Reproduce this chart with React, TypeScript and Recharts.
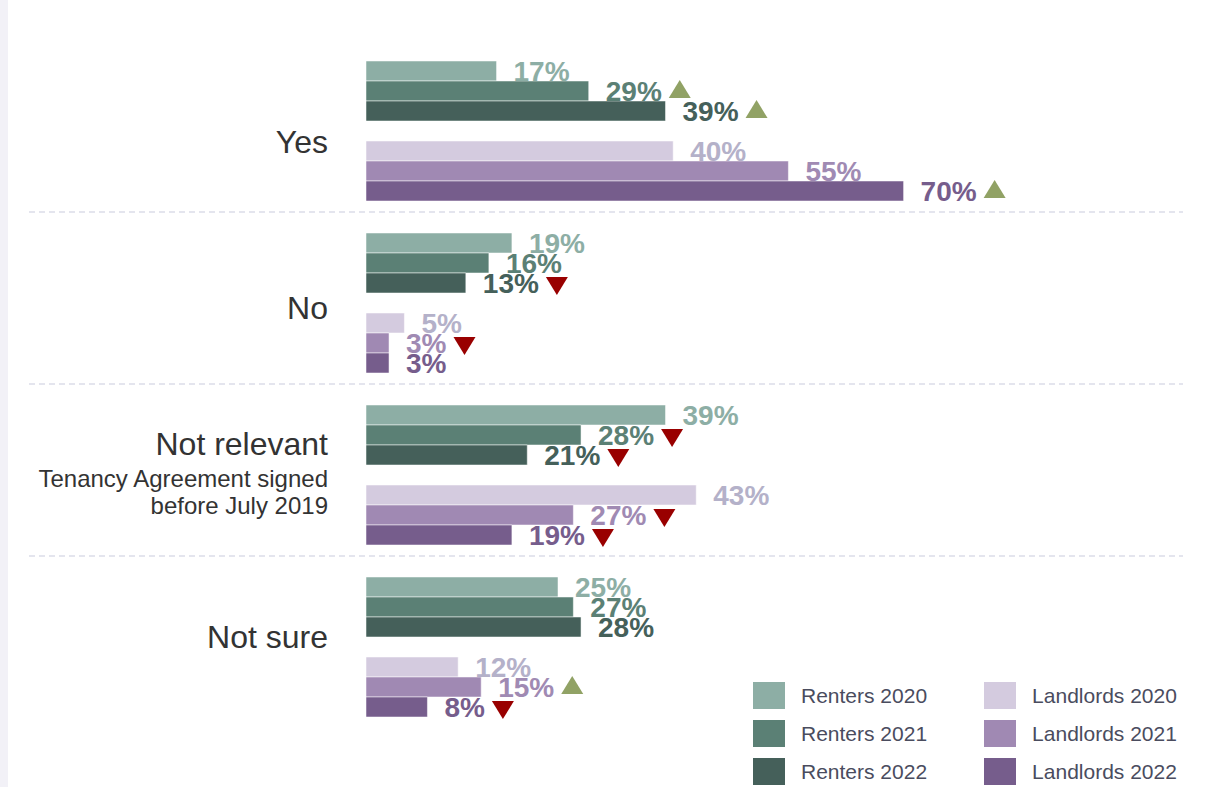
import { BarChart, Bar, XAxis, YAxis, LabelList } from 'recharts'

const categories = ['Yes', 'No', 'Not relevant', 'Not sure']

const renters2020 = [17, 19, 39, 25]
const renters2021 = [29, 16, 28, 27]
const renters2022 = [39, 13, 21, 28]
const landlords2020 = [40, 5, 43, 12]
const landlords2021 = [55, 3, 27, 15]
const landlords2022 = [70, 3, 19, 8]
const spacer = [0, 0, 0, 0]

// significance vs previous year: 'up', 'down' or ''
const renters2020Sig = ['', '', '', '']
const renters2021Sig = ['up', '', 'down', '']
const renters2022Sig = ['up', 'down', 'down', '']
const landlords2020Sig = ['', '', '', '']
const landlords2021Sig = ['', 'down', 'down', 'up']
const landlords2022Sig = ['up', '', 'down', 'down']

const series = [
  { key: 'r20', name: 'Renters 2020', values: renters2020, sig: renters2020Sig, fill: '#8daea5', text: '#8daea5' },
  { key: 'r21', name: 'Renters 2021', values: renters2021, sig: renters2021Sig, fill: '#5b8075', text: '#5b8075' },
  { key: 'r22', name: 'Renters 2022', values: renters2022, sig: renters2022Sig, fill: '#45605a', text: '#45605a' },
  { key: 'l20', name: 'Landlords 2020', values: landlords2020, sig: landlords2020Sig, fill: '#d4cbdf', text: '#b4b1c9' },
  { key: 'l21', name: 'Landlords 2021', values: landlords2021, sig: landlords2021Sig, fill: '#a089b3', text: '#a08ab3' },
  { key: 'l22', name: 'Landlords 2022', values: landlords2022, sig: landlords2022Sig, fill: '#765d8c', text: '#765d8c' },
]

const data = categories.map((name, i) => {
  const row: any = { name, gap: spacer[i] }
  series.forEach(s => { row[s.key] = s.values[i] })
  return row
})

// where each category title sits relative to its band centre
const titleOffsets: Record<string, number> = { 'Yes': 22, 'No': 16, 'Not relevant': -20, 'Not sure': 1 }

function CategoryTick(props: any) {
  const { y, payload, index } = props
  const name = payload.value
  const base = y + (titleOffsets[name] ?? 0)
  return (
    <g>
      <text x={328} y={base} textAnchor="end" fontSize={32} fill="#333333">{name}</text>
      {name === 'Not relevant' && (
        <text x={328} y={base + 32} textAnchor="end" fontSize={24} fill="#333333">
          <tspan x={328}>Tenancy Agreement signed</tspan>
          <tspan x={328} dy={27}>before July 2019</tspan>
        </text>
      )}
      {index < categories.length - 1 && (
        <line x1={29} x2={1183} y1={y + 81} y2={y + 81} stroke="#c9cbdd" strokeDasharray="6 4" />
      )}
    </g>
  )
}

function makeLabel(s: any) {
  return (props: any) => {
    const { x, y, width, height, value, index } = props
    const tx = x + width + 17
    const textW = (String(value).length * 0.556 + 0.889) * 28
    const mark = s.sig[index]
    const mx = tx + textW + 7
    return (
      <g>
        <text x={tx} y={y + height} fontSize={28} fontWeight="bold" fill={s.text}>{value}%</text>
        {mark === 'up' && (
          <polygon points={`${mx},${y + 17} ${mx + 22},${y + 17} ${mx + 11},${y - 1}`} fill="#91a265" />
        )}
        {mark === 'down' && (
          <polygon points={`${mx},${y + 4} ${mx + 22},${y + 4} ${mx + 11},${y + 22}`} fill="#990000" />
        )}
      </g>
    )
  }
}

function LegendBlock() {
  const cols = [series.slice(0, 3), series.slice(3)]
  return (
    <div style={{ position: 'absolute', left: 753, top: 682, display: 'flex', gap: 57, fontFamily: 'Arial, "Liberation Sans", sans-serif' }}>
      {cols.map((col, ci) => (
        <div key={ci} style={{ display: 'flex', flexDirection: 'column', gap: 11 }}>
          {col.map(s => (
            <div key={s.key} style={{ display: 'flex', alignItems: 'center', height: 27 }}>
              <div style={{ width: 32, height: 27, background: s.fill, marginRight: 16 }} />
              <span style={{ fontSize: 21, color: '#4a4c5e', whiteSpace: 'nowrap' }}>{s.name}</span>
            </div>
          ))}
        </div>
      ))}
    </div>
  )
}

export default function App() {
  return (
    <div style={{ position: 'relative', width: 1223, height: 787, background: '#ffffff', overflow: 'hidden', fontFamily: 'Arial, "Liberation Sans", sans-serif' }}>
      <style>{`body { margin: 0; }`}</style>
      <div style={{ position: 'absolute', left: 0, top: 0, width: 8, height: 787, background: '#f2f1f7' }} />
      <BarChart
        width={1223}
        height={787}
        data={data}
        layout="vertical"
        margin={{ top: 45, right: 89, bottom: 54, left: 0 }}
        barGap={0}
        barSize={20}
        style={{ fontFamily: 'Arial, "Liberation Sans", sans-serif' }}
      >
        <XAxis type="number" domain={[0, 100]} hide />
        <YAxis
          type="category"
          dataKey="name"
          width={366}
          axisLine={false}
          tickLine={false}
          tick={(p: any) => <CategoryTick {...p} />}
        />
        {series.slice(0, 3).map(s => (
          <Bar key={s.key} dataKey={s.key} fill={s.fill} stroke="rgba(255,255,255,0.5)" isAnimationActive={false}>
            <LabelList dataKey={s.key} content={makeLabel(s)} />
          </Bar>
        ))}
        <Bar dataKey="gap" fill="transparent" isAnimationActive={false} />
        {series.slice(3).map(s => (
          <Bar key={s.key} dataKey={s.key} fill={s.fill} stroke="rgba(255,255,255,0.5)" isAnimationActive={false}>
            <LabelList dataKey={s.key} content={makeLabel(s)} />
          </Bar>
        ))}
      </BarChart>
      <LegendBlock />
    </div>
  )
}
